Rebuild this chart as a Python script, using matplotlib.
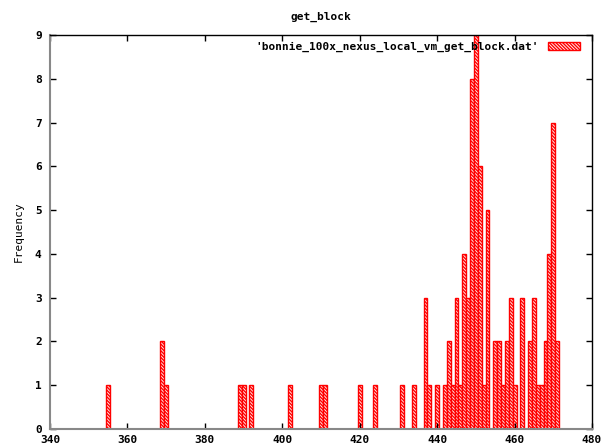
import matplotlib
matplotlib.use("Agg")
import matplotlib.pyplot as plt

# histogram of get_block times (bin value -> count)
values = [355, 369, 370, 389, 390, 392, 402, 410, 411, 420, 424, 431, 434,
          437, 438, 440, 442, 443, 444, 445, 446, 447, 448, 449, 450, 451,
          452, 453, 455, 456, 457, 458, 459, 460, 462, 464, 465, 466, 467,
          468, 469, 470, 471]
counts = [1, 2, 1, 1, 1, 1, 1, 1, 1, 1, 1, 1, 1,
          3, 1, 1, 1, 2, 1, 3, 1, 4, 3, 8, 9, 6,
          1, 5, 2, 2, 1, 2, 3, 1, 3, 2, 3, 1, 1,
          2, 4, 7, 2]
xticks = [340, 360, 380, 400, 420, 440, 460, 480]
yticks = list(range(10))

plt.rcParams['font.family'] = 'DejaVu Sans Mono'
plt.rcParams['font.weight'] = 'bold'
plt.rcParams['font.size'] = 8
plt.rcParams['hatch.linewidth'] = 1.0

fig = plt.figure(figsize=(6.05, 4.47), dpi=100)
ax = fig.add_axes([50 / 605, 18 / 447, 542 / 605, 394 / 447])

ax.bar(values, counts, width=1, facecolor='#fff0f0', edgecolor='red',
       hatch='\\' * 10, linewidth=1,
       label="'bonnie_100x_nexus_local_vm_get_block.dat'")

ax.set_xlim(340, 480)
ax.set_ylim(0, 9)
ax.set_xticks(xticks)
ax.set_yticks(yticks)
ax.tick_params(direction='in', length=4, top=True, right=True, width=1)
ax.tick_params(axis='x', pad=4)
ax.tick_params(axis='y', pad=6)

ax.spines['left'].set_color('#888888')
ax.spines['bottom'].set_color('#888888')
ax.spines['left'].set_linewidth(1.5)
ax.spines['bottom'].set_linewidth(1.5)
ax.spines['top'].set_linewidth(1)
ax.spines['right'].set_linewidth(1)

ax.set_ylabel('Frequency', labelpad=8)
fig.text(321 / 605, 1 - 17 / 447, 'get_block', ha='center', va='center',
         fontweight='bold')

ax.legend(loc='upper right', frameon=False, markerfirst=False,
          handlelength=2.9, handleheight=0.8, handletextpad=0.8,
          borderaxespad=0.3, bbox_to_anchor=(1 - 4 / 542, 1 + 1 / 394))

fig.savefig('out.png', dpi=100)
